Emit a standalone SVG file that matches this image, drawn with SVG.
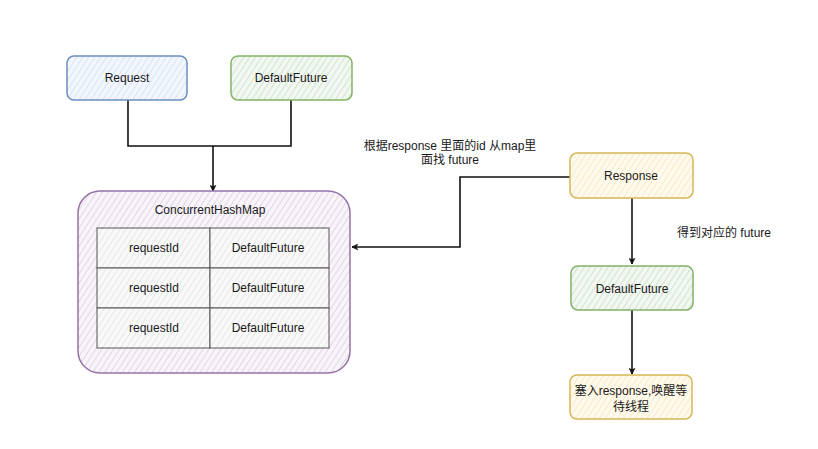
<svg xmlns="http://www.w3.org/2000/svg" width="818" height="449" viewBox="0 0 818 449">
<style>
text{font-family:"Liberation Sans","Noto Sans CJK SC",sans-serif;font-size:12px;fill:#1a1a1a;text-anchor:middle;dominant-baseline:central}
.blue{stroke:#6c8ebf;fill:url(#hb)}
.green{stroke:#82b366;fill:url(#hg)}
.purple{stroke:#9673a6;fill:url(#hp)}
.yellow{stroke:#d6b656;fill:url(#hy)}
.cell{stroke:#555;fill:url(#hc)}
.node{stroke-width:1.5}
.conn{fill:none;stroke:#111;stroke-width:1.6}
</style>
<defs>
<pattern id="hb" width="5" height="5" patternUnits="userSpaceOnUse" patternTransform="rotate(33)"><rect width="5" height="5" fill="#f3f7fd"/><line x1="0" y1="0" x2="0" y2="5" stroke="#cfdff5" stroke-width="1.6"/></pattern>
<pattern id="hg" width="5" height="5" patternUnits="userSpaceOnUse" patternTransform="rotate(33)"><rect width="5" height="5" fill="#f2f7f1"/><line x1="0" y1="0" x2="0" y2="5" stroke="#c9e0c7" stroke-width="1.6"/></pattern>
<pattern id="hp" width="5" height="5" patternUnits="userSpaceOnUse" patternTransform="rotate(33)"><rect width="5" height="5" fill="#f8f4f9"/><line x1="0" y1="0" x2="0" y2="5" stroke="#dccfe3" stroke-width="1.6"/></pattern>
<pattern id="hy" width="5" height="5" patternUnits="userSpaceOnUse" patternTransform="rotate(33)"><rect width="5" height="5" fill="#fffaee"/><line x1="0" y1="0" x2="0" y2="5" stroke="#f8e8bd" stroke-width="1.6"/></pattern>
<pattern id="hc" width="5" height="5" patternUnits="userSpaceOnUse" patternTransform="rotate(33)"><rect width="5" height="5" fill="#f9f9f9"/><line x1="0" y1="0" x2="0" y2="5" stroke="#e3e3e3" stroke-width="1.6"/></pattern>
<marker id="arr" viewBox="0 0 10 10" refX="9" refY="5" markerWidth="7" markerHeight="7" markerUnits="userSpaceOnUse" orient="auto">
<path d="M1,1 L9,5 L1,9 L3,5 Z" fill="#111" stroke="#111" stroke-width="1"/>
</marker>
</defs>
<rect width="818" height="449" fill="#fff"/>

<g id="connectors">
<path class="conn" d="M128,100 V146 H291 V100"/>
<path class="conn" d="M213,146 V191" marker-end="url(#arr)"/>
<path class="conn" d="M570,177 H460 V247 H352" marker-end="url(#arr)"/>
<path class="conn" d="M632,198 V264" marker-end="url(#arr)"/>
<path class="conn" d="M632,310 V374" marker-end="url(#arr)"/>
</g>

<g id="request">
<rect class="node blue" x="67" y="56" width="120" height="44" rx="7"/>
<text x="127" y="78">Request</text>
</g>
<g id="defaultfuture-top">
<rect class="node green" x="231" y="56" width="121" height="44" rx="7"/>
<text x="291" y="78">DefaultFuture</text>
</g>

<g id="concurrenthashmap">
<rect class="node purple" x="78" y="191" width="272" height="182" rx="22"/>
<text x="210" y="210">ConcurrentHashMap</text>
</g>
<g id="table">
<rect class="cell" x="97" y="228" width="113" height="40"/>
<text x="154" y="248">requestId</text>
<rect class="cell" x="210" y="228" width="119" height="40"/>
<text x="268" y="248">DefaultFuture</text>
<rect class="cell" x="97" y="268" width="113" height="40"/>
<text x="154" y="288">requestId</text>
<rect class="cell" x="210" y="268" width="119" height="40"/>
<text x="268" y="288">DefaultFuture</text>
<rect class="cell" x="97" y="308" width="113" height="40"/>
<text x="154" y="328">requestId</text>
<rect class="cell" x="210" y="308" width="119" height="40"/>
<text x="268" y="328">DefaultFuture</text>
</g>

<g id="label-lookup">
<text x="450" y="146">根据response 里面的id 从map里</text>
<text x="450" y="160">面找 future</text>
</g>

<g id="response">
<rect class="node yellow" x="570" y="153" width="123" height="45" rx="7"/>
<text x="631" y="176">Response</text>
</g>

<g id="label-get">
<text x="724" y="233">得到对应的 future</text>
</g>

<g id="defaultfuture-right">
<rect class="node green" x="571" y="266" width="122" height="44" rx="7"/>
<text x="632" y="289">DefaultFuture</text>
</g>

<g id="put-response">
<rect class="node yellow" x="570" y="375" width="122" height="44" rx="7"/>
<text x="631" y="391">塞入response,唤醒等</text>
<text x="631" y="407">待线程</text>
</g>
</svg>
